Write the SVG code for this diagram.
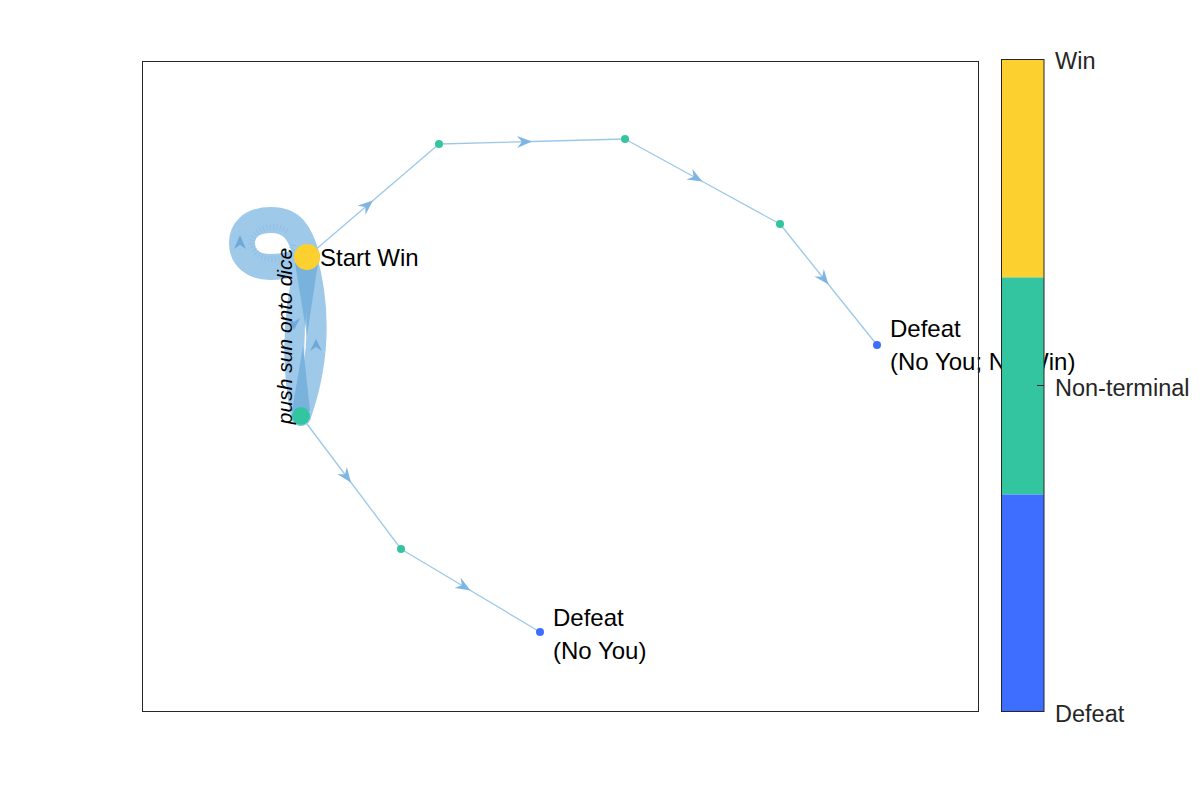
<svg xmlns="http://www.w3.org/2000/svg" width="1200" height="800" viewBox="0 0 1200 800">
<style>
.edge{fill:none;stroke:#9cc8e9;stroke-width:1.3}
.band{fill:none;stroke:#9fc9e9;stroke-linecap:round}
.lbl{font-family:"Liberation Sans",Arial,sans-serif;font-size:24px;fill:#000}
.cbl{font-family:"Liberation Sans",Arial,sans-serif;font-size:23.5px;fill:#262626}
.ah{fill:#6fa9dc}
</style>
<defs>
<marker id="arr" markerUnits="userSpaceOnUse" markerWidth="16" markerHeight="12" viewBox="0 0 16 12" refX="15" refY="6" orient="auto">
<path d="M15,6 L0,0 L5,6 L0,12 Z" fill="#7fb5e2"/>
</marker>
</defs>
<rect width="1200" height="800" fill="#fff"/>
<g id="connectors">
<!-- self loop on start -->
<path class="band" stroke-width="26" d="M307,257 C300,232 292,220 271,220 C250,220 242,231 242,243 C242,258 254,267 270,267 C288,267 300,262 307,257"/>
<path fill="none" stroke="#86b9e2" stroke-width="6" stroke-dasharray="1 2.4" d="M287,231 C281,227 273,226 265,228 C256,231 251,238 252,244 C253,252 262,259 272,259 C283,259 293,253 293,244" opacity="0.6"/>
<path class="ah" d="M240,235 L234,249 L240,245 L246,249 Z"/>
<!-- bundle start <-> non-terminal -->
<path class="band" stroke-width="20" d="M307,257 Q285,336 301,416"/>
<path class="band" stroke-width="20" d="M301,416 Q329,336 307,257"/>
<path d="M295,263 L318,263 L307,336 Z" fill="#5b9fd6" opacity="0.55"/>
<path d="M292,411 L310,411 L303,346 Z" fill="#5b9fd6" opacity="0.55"/>
<path class="ah" d="M294,330 L288,318 L294,322 L300,318 Z"/>
<path class="ah" d="M316,339 L310,351 L316,347 L322,351 Z"/>
<!-- thin edges -->
<polyline class="edge" marker-mid="url(#arr)" points="307,257 373,200.5 439,144"/>
<polyline class="edge" marker-mid="url(#arr)" points="439,144 532,141.5 625,139"/>
<polyline class="edge" marker-mid="url(#arr)" points="625,139 702.5,181.5 780,224"/>
<polyline class="edge" marker-mid="url(#arr)" points="780,224 828.5,284.5 877,345"/>
<polyline class="edge" marker-mid="url(#arr)" points="301,416 351,482.5 401,549"/>
<polyline class="edge" marker-mid="url(#arr)" points="401,549 470.5,590.5 540,632"/>
</g>
<g id="n-start"><circle cx="307" cy="257" r="13" fill="#fbd02f"/><text class="lbl" x="320" y="266">Start Win</text></g>
<g id="n-mid"><circle cx="301" cy="416" r="9" fill="#33c59f"/></g>
<g id="n-a"><circle cx="439" cy="144" r="4" fill="#33c59f"/></g>
<g id="n-b"><circle cx="625" cy="139" r="4" fill="#33c59f"/></g>
<g id="n-c"><circle cx="780" cy="224" r="4" fill="#33c59f"/></g>
<g id="n-d"><circle cx="401" cy="549" r="4" fill="#33c59f"/></g>
<g id="n-def1"><circle cx="877" cy="345" r="4" fill="#3e6eff"/><text class="lbl" x="890" y="337">Defeat</text><text class="lbl" x="890" y="370">(No You; No Win)</text></g>
<g id="n-def2"><circle cx="540" cy="632" r="4" fill="#3e6eff"/><text class="lbl" x="553" y="626">Defeat</text><text class="lbl" x="553" y="659">(No You)</text></g>
<text id="edge-label" font-family="'Liberation Sans',Arial,sans-serif" font-style="italic" font-size="21" transform="translate(292,336) rotate(-90)" text-anchor="middle">push sun onto dice</text>
<rect id="axes" x="142.5" y="61.5" width="836" height="650" fill="none" stroke="#262626" stroke-width="1"/>
<g id="colorbar">
<rect x="1001" y="59.5" width="43" height="218" fill="#fbd02f"/>
<rect x="1001" y="277.5" width="43" height="217" fill="#33c59f"/>
<rect x="1001" y="494.5" width="43" height="217" fill="#3e6eff"/>
<rect x="1001.5" y="59.5" width="42.5" height="652" fill="none" stroke="#262626" stroke-width="1"/>
<line x1="1037" y1="385.5" x2="1044" y2="385.5" stroke="#262626" stroke-width="1"/>
<text class="cbl" x="1055" y="69">Win</text>
<text class="cbl" x="1055" y="396">Non-terminal</text>
<text class="cbl" x="1055" y="722">Defeat</text>
</g>
</svg>
